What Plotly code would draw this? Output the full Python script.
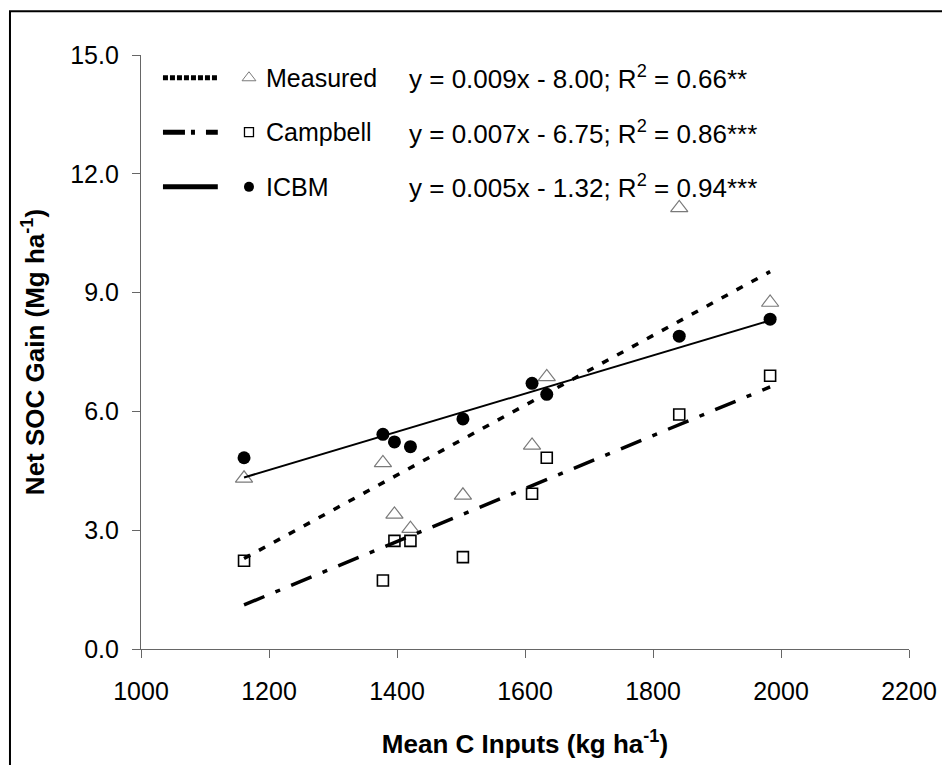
import numpy as np
import plotly.graph_objects as go

# mean C inputs (kg/ha) and net SOC gain (Mg/ha)
c_inputs = [1161, 1378, 1396, 1421, 1503, 1611, 1634, 1841, 1983]
measured = [4.31, 4.70, 3.40, 3.04, 3.88, 5.14, 6.87, 11.14, 8.75]
campbell = [2.23, 1.73, 2.73, 2.73, 2.32, 3.92, 4.83, 5.92, 6.90]
icbm = [4.83, 5.42, 5.23, 5.11, 5.81, 6.71, 6.43, 7.90, 8.33]

series_names = ["Measured", "Campbell", "ICBM"]
equations = ["y = 0.009x - 8.00; R<sup>2</sup> = 0.66**",
             "y = 0.007x - 6.75; R<sup>2</sup> = 0.86***",
             "y = 0.005x - 1.32; R<sup>2</sup> = 0.94***"]

FONT = "Liberation Sans, Arial, sans-serif"

markers = [dict(symbol="triangle-up-open", size=15, color="#7a7a7a", line=dict(width=1.2, color="#7a7a7a")),
           dict(symbol="square-open", size=11, color="black", line=dict(width=1.6, color="black")),
           dict(symbol="circle", size=13, color="black")]
legend_markers = [dict(symbol="triangle-up-open", size=12, color="#7a7a7a", line=dict(width=1, color="#7a7a7a")),
                  dict(symbol="square-open", size=9, color="black", line=dict(width=1.3, color="black")),
                  dict(symbol="circle", size=10, color="black")]
lines = [dict(color="black", width=3.5, dash="7px,10px"),
         dict(color="black", width=3.5, dash="22px,12px,5px,12px"),
         dict(color="black", width=2)]
legend_lines = [dict(color="black", width=5, dash="5px,2px"),
                dict(color="black", width=5, dash="22px,6px,4px,11px"),
                dict(color="black", width=5)]

fig = go.Figure()

data = [measured, campbell, icbm]
for ys, mk in zip(data, markers):
    fig.add_trace(go.Scatter(x=c_inputs, y=ys, mode="markers", marker=mk, showlegend=False))

# regression lines over the range of inputs
xs = np.array([min(c_inputs), max(c_inputs)])
for ys, ln in zip(data, lines):
    slope, icpt = np.polyfit(c_inputs, ys, 1)
    fig.add_trace(go.Scatter(x=xs, y=slope * xs + icpt, mode="lines", line=ln, showlegend=False))

# hand made legend (paper coords)
rows = [0.9617, 0.87, 0.778]
for i in range(3):
    fig.add_shape(type="line", xref="paper", yref="paper", x0=0.0286, x1=0.100,
                  y0=rows[i], y1=rows[i], line=legend_lines[i])
    fig.add_trace(go.Scatter(x=[0.1406], y=[rows[i]], xaxis="x2", yaxis="y2", mode="markers",
                             marker=legend_markers[i], showlegend=False))
    fig.add_annotation(xref="paper", yref="paper", x=0.160, y=rows[i], text=series_names[i],
                       showarrow=False, xanchor="left", yanchor="middle",
                       font=dict(family=FONT, size=25, color="black"))
    fig.add_annotation(xref="paper", yref="paper", x=0.347, y=rows[i], text=equations[i],
                       showarrow=False, xanchor="left", yanchor="middle",
                       font=dict(family=FONT, size=26, color="black"))

# outer frame
fig.add_shape(type="rect", xref="paper", yref="paper", x0=-0.1706, x1=1.3, y0=-0.4, y1=1.0738,
              line=dict(color="black", width=2))

# page body has an 8px margin, so the figure is 8px smaller and offsets are reduced
fig.update_layout(
    width=942, height=757,
    margin=dict(l=133, r=41, t=47, b=110),
    plot_bgcolor="white", paper_bgcolor="white",
    font=dict(family=FONT, size=25, color="black"),
    xaxis=dict(range=[1000, 2200], dtick=200, tick0=1000, showgrid=False, zeroline=False,
               showline=True, linecolor="#666", linewidth=1.2, ticks="outside", ticklen=8,
               tickcolor="#666", tickwidth=1.2, ticklabelstandoff=12,
               title=dict(text="<b>Mean C Inputs (kg ha<sup>-1</sup>)</b>", standoff=30,
                          font=dict(family=FONT, size=26))),
    yaxis=dict(range=[0, 15], dtick=3, tick0=0, tickformat=".1f", showgrid=False, zeroline=False,
               showline=True, linecolor="#666", linewidth=1.2, ticks="outside", ticklen=8,
               tickcolor="#666", tickwidth=1.2, ticklabelstandoff=8,
               title=dict(text="<b>Net SOC Gain (Mg ha<sup>-1</sup>)</b>", standoff=18,
                          font=dict(family=FONT, size=26))),
    xaxis2=dict(range=[0, 1], overlaying="x", visible=False),
    yaxis2=dict(range=[0, 1], overlaying="y", visible=False),
    showlegend=False,
)

fig.write_html("out.html")
